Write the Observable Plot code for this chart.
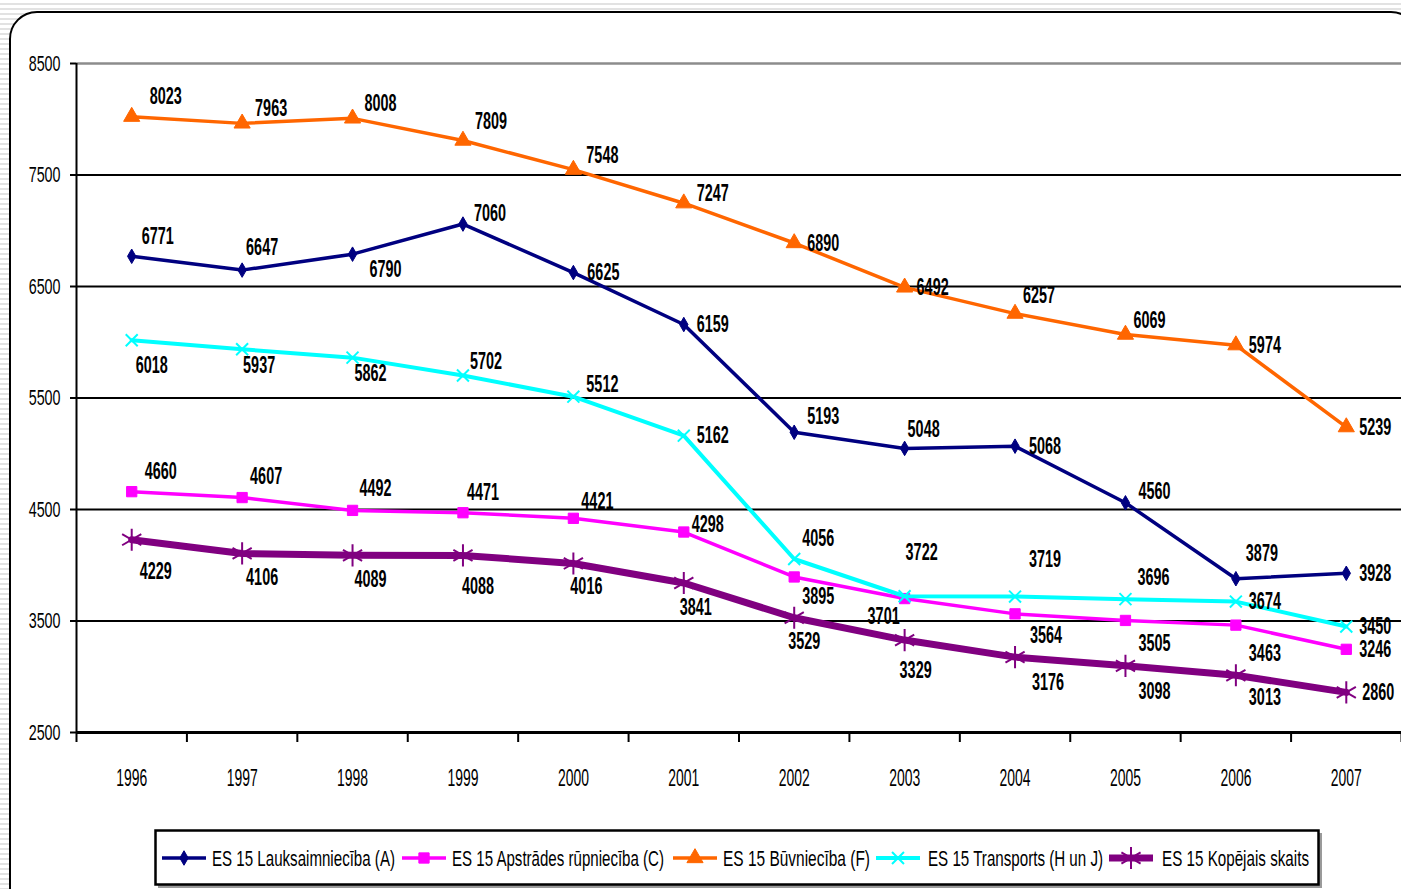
<!DOCTYPE html>
<html><head><meta charset="utf-8">
<script src="https://cdn.jsdelivr.net/npm/d3@7"></script>
<script src="https://cdn.jsdelivr.net/npm/@observablehq/plot@0.6"></script>
<style>
html,body{margin:0;padding:0}
body{width:1401px;height:889px;overflow:hidden;position:relative;font-family:"Liberation Sans",Arial,sans-serif;
background:repeating-linear-gradient(180deg,#ffffff 0px,#ffffff 3px,#e2e2e2 3px,#e2e2e2 5px)}
#frame{position:absolute;left:9px;top:11px;width:1410px;height:940px;box-sizing:border-box;border:2px solid #000;border-radius:28px;background:#fff}
#chart{position:absolute;left:0;top:0}
#legend{position:absolute;left:154px;top:829px}
</style></head>
<body>
<div id="frame"></div>
<div id="chart"></div>
<div id="legend"></div>
<script>
const years = [1996,1997,1998,1999,2000,2001,2002,2003,2004,2005,2006,2007];
const seriesNames = ["ES 15 Lauksaimniecība (A)","ES 15 Apstrādes rūpniecība (C)","ES 15 Būvniecība (F)","ES 15 Transports (H un J)","ES 15 Kopējais skaits"];
const lauksaimnieciba = [6771,6647,6790,7060,6625,6159,5193,5048,5068,4560,3879,3928];
const apstrades = [4660,4607,4492,4471,4421,4298,3895,3701,3564,3505,3463,3246];
const buvnieciba = [8023,7963,8008,7809,7548,7247,6890,6492,6257,6069,5974,5239];
const transports = [6018,5937,5862,5702,5512,5162,4056,3722,3719,3696,3674,3450];
const kopejais = [4229,4106,4089,4088,4016,3841,3529,3329,3176,3098,3013,2860];
const yTicks = [2500,3500,4500,5500,6500,7500,8500];

// styling
const colors = ["#000080","#FF00FF","#FF6600","#00FFFF","#800080"];
const symbols = ["diamond","square","triangle","times","asterisk"];
const widths = [3.5,3.5,3.5,4,7];
const dotR = [4.4,5.8,6.0,5.5,10.5];
const dotFill = [true,true,true,false,false];
// label offsets in px [dx,dy]
const labelOffsets = [
 [[26,-20],[20,-23],[33,15],[27,-11],[30,0],[29,0],[29,-16],[19,-19],[30,0],[29,-11],[26,-25],[29,0]],
 [[29,-20],[24,-21],[23,-22],[20,-20],[24,-17],[24,-8],[24,19],[-21,18],[31,21],[29,23],[29,28],[29,0]],
 [[34,-20],[29,-15],[28,-15],[28,-19],[29,-14],[29,-10],[29,0],[28,0],[24,-18],[24,-14],[29,0],[29,0]],
 [[20,25],[17,16],[18,16],[23,-14],[29,-12],[29,0],[24,-21],[17,-44],[30,-37],[28,-22],[29,0],[29,0]],
 [[24,32],[20,24],[18,24],[15,31],[13,23],[12,24],[10,24],[11,30],[33,25],[29,25],[29,22],[32,0]]
];
const seriesValues = [lauksaimnieciba, apstrades, buvnieciba, transports, kopejais];
const boundaries = years.map(y => y - 0.5).concat([years[years.length-1] + 0.5]);

const data = seriesValues.map((vals,k) => vals.map((v,i) => ({year: years[i], value: v, k, i})));

const marks = [
  Plot.ruleY(yTicks.filter(t => t !== 2500 && t !== 8500), {stroke: "#000", strokeWidth: 2}),
  Plot.ruleY([8500], {stroke: "#8c8c8c", strokeWidth: 2.5}),
  Plot.ruleX([boundaries[0]], {stroke: "#000", strokeWidth: 2}),
  Plot.axisX(boundaries, {tickSize: 10, tickFormat: () => "", strokeWidth: 2, label: null, stroke: "#000"}),
  Plot.axisX(years, {tickSize: 0, tickPadding: 36, tickFormat: d => String(d), fontSize: 24, label: null, fill: "#000"}),
  Plot.axisY(yTicks, {tickSize: 6, tickPadding: 10, tickFormat: d => String(d), fontSize: 22, label: null, strokeWidth: 2, fill: "#000"}),
  Plot.ruleY([2500], {stroke: "#000", strokeWidth: 3})
];
data.forEach((rows,k) => {
  marks.push(Plot.line(rows, {x: "year", y: "value", stroke: colors[k], strokeWidth: widths[k], strokeLinejoin: "round"}));
  marks.push(Plot.dot(rows, {x: "year", y: "value", symbol: symbols[k], r: dotR[k],
    fill: dotFill[k] ? colors[k] : "none", stroke: colors[k], strokeWidth: dotFill[k] ? 1 : 2}));
});
data.forEach((rows,k) => {
  rows.forEach((r,i) => {
    marks.push(Plot.text([r], {x: "year", y: "value", text: d => String(d.value),
      dx: labelOffsets[k][i][0], dy: labelOffsets[k][i][1], fontSize: 24, fontWeight: "bold", fill: "#000"}));
  });
});

const chart = Plot.plot({
  width: 1401, height: 800,
  marginLeft: 76, marginRight: 0, marginTop: 63, marginBottom: 68,
  x: {type: "linear", domain: [boundaries[0], boundaries[boundaries.length-1]]},
  y: {domain: [2500, 8500]},
  style: {fontFamily: "'Liberation Sans', Arial, sans-serif", background: "transparent", overflow: "visible"},
  marks
});
document.getElementById("chart").appendChild(chart);

function squeeze(sel, f) {
  chart.querySelectorAll(sel).forEach(t => {
    const L = t.getComputedTextLength();
    if (L > 0) { t.setAttribute("textLength", L * f); t.setAttribute("lengthAdjust", "spacingAndGlyphs"); }
  });
}
squeeze('g[aria-label="text"] text', 0.6);
squeeze('g[aria-label="y-axis tick label"] text', 0.65);
squeeze('g[aria-label="x-axis tick label"] text', 0.58);

// legend
const lineX = [8,248,519,722,955];
const textX = [58,298,569,774,1008];
const textW = [183,212,147,175,147];
const leg = d3.create("svg").attr("width", 1172).attr("height", 62)
  .style("font-family", "'Liberation Sans', Arial, sans-serif");
leg.append("rect").attr("x", 4).attr("y", 4).attr("width", 1164).attr("height", 55).attr("fill", "#9a9a9a");
leg.append("rect").attr("x", 1.5).attr("y", 1.5).attr("width", 1163).attr("height", 54).attr("fill", "#fff").attr("stroke", "#000").attr("stroke-width", 2.5);
const symMap = {diamond: d3.symbolDiamond, square: d3.symbolSquare, triangle: d3.symbolTriangle, times: d3.symbolTimes, asterisk: d3.symbolAsterisk};
seriesNames.forEach((name,k) => {
  const g = leg.append("g");
  const cy = 29;
  g.append("line").attr("x1", lineX[k]).attr("x2", lineX[k] + 44).attr("y1", cy).attr("y2", cy)
    .attr("stroke", colors[k]).attr("stroke-width", widths[k]);
  g.append("path").attr("d", d3.symbol(symMap[symbols[k]], dotR[k] * dotR[k] * Math.PI)())
    .attr("transform", `translate(${lineX[k] + 22},${cy})`)
    .attr("fill", dotFill[k] ? colors[k] : "none").attr("stroke", colors[k]).attr("stroke-width", dotFill[k] ? 1 : 2);
  g.append("text").attr("x", textX[k]).attr("y", cy).attr("dy", "0.35em").attr("font-size", 22).attr("fill", "#000")
    .attr("textLength", textW[k]).attr("lengthAdjust", "spacingAndGlyphs").text(name);
});
document.getElementById("legend").appendChild(leg.node());
</script>
</body></html>
